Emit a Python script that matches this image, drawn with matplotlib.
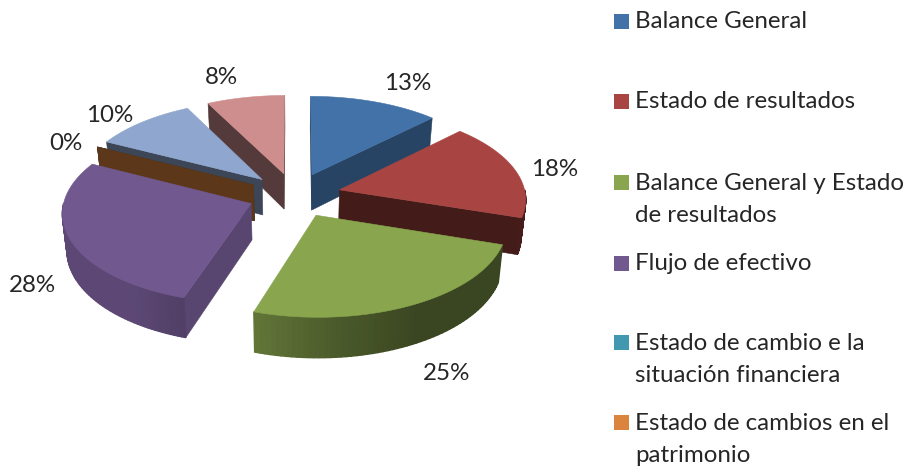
import numpy as np
import matplotlib
matplotlib.use("Agg")
import matplotlib.pyplot as plt
from matplotlib.patches import Polygon, Rectangle

# ---- data ----
categories = ["Balance General", "Estado de resultados",
              "Balance General y Estado\nde resultados", "Flujo de efectivo",
              "Estado de cambio e la\nsituación financiera",
              "Estado de cambios en el\npatrimonio", "Otros 1", "Otros 2"]
counts = [5, 7, 10, 11, 0, 0, 4, 3]
colors = ["#4272A8", "#A84542", "#89A54E", "#71588F", "#4198AF", "#DB843D", "#8FA6CE", "#CE8E8D"]

# ---- styling / placement ----
wall_shade = [0.60, 0.40, 0.42, 0.78, 0.45, 0.42, 0.42, 0.41]
draw_order = [7, 0, 6, 4, 5, 1, 3, 2]
label_xy = [(408, 84), (555, 170), (447, 373), (32, 286), None, (66, 144), (110, 115), (221, 78)]
legend_y = [22, 102, 183, 264, 343, 423]
legend_line = 32
CX, CY, A, B, K, E, D, DX = 294.5, 195, 186, 89, 0.09, 0.25, 36, 0.98

fig = plt.figure(figsize=(9.10, 4.68), dpi=100)
ax = fig.add_axes([0, 0, 1, 1])
ax.set_xlim(0, 910)
ax.set_ylim(468, 0)
ax.axis("off")
FONT = "Lato"
TXT = "#262626"


def project(u, v):
    w = 1 / (1 - K * v)
    return CX + A * u * w, CY + B * v * w


def drop(x, y, v):
    w = 1 / (1 - K * v)
    return CX + (x - CX) * DX, y + D * w


def shade(c, f):
    return tuple(np.array(matplotlib.colors.to_rgb(c)) * f)


def rim_factor(t):
    return np.interp(t, [108, 150, 175, 198, 215, 270], [0.42, 0.42, 0.55, 0.72, 0.82, 0.82])


total = sum(counts)
fracs = np.array(counts) / total
ends = np.cumsum(fracs) * 360
starts = ends - fracs * 360


def face(px, py, c, z, lw=0.4):
    ax.add_patch(Polygon(np.column_stack([px, py]), closed=True, fc=c, ec=c, lw=lw, zorder=z))


for n, i in enumerate(draw_order):
    t0, t1 = starts[i], ends[i]
    mid = np.radians((t0 + t1) / 2)
    u0, v0 = E * np.sin(mid), -E * np.cos(mid)
    ang = np.radians(np.linspace(t0, t1, 80))
    us = u0 + np.sin(ang)
    vs = v0 - np.cos(ang)
    x, y = project(us, vs)
    ax_, ay_ = project(u0, v0)
    z = 2 + n
    # radial walls
    for end_idx in (0, -1):
        ex, ey = x[end_idx], y[end_idx]
        qx, qy = x[len(x) // 2], y[len(y) // 2]
        dx, dy = ex - ax_, ey - ay_
        side_q = dx * (qy - ay_) - dy * (qx - ax_)
        side_d = dx * 1.0
        if counts[i] == 0 or side_q * side_d < 0:
            bx, by = drop(ex, ey, vs[end_idx])
            cx2, cy2 = drop(ax_, ay_, v0)
            face([ax_, ex, bx, cx2], [ay_, ey, by, cy2], shade(colors[i], wall_shade[i]), z)
    # outer rim
    lo, hi = max(t0, 90), min(t1, 270)
    if hi > lo:
        th = np.linspace(lo, hi, 60)
        rad = np.radians(th)
        ru, rv = u0 + np.sin(rad), v0 - np.cos(rad)
        rx, ry = project(ru, rv)
        bx, by = drop(rx, ry, rv)
        for k in range(len(th) - 1):
            col = shade(colors[i], rim_factor(th[k]))
            face([rx[k], rx[k + 1], bx[k + 1], bx[k]], [ry[k], ry[k + 1], by[k + 1], by[k]], col, z, lw=1.0)
    # top face
    if counts[i] > 0:
        face(np.r_[ax_, x], np.r_[ay_, y], colors[i], z + 0.5)

# data labels
for i, pos in enumerate(label_xy):
    if pos is not None:
        pct = int(fracs[i] * 100 + 0.5)
        ax.text(pos[0], pos[1], f"{pct}%", ha="center", va="center", fontsize=17.4,
                family=FONT, color=TXT, zorder=30)

# legend
for i, ly in enumerate(legend_y):
    ax.add_patch(Rectangle((614, ly - 8), 15, 15, fc=colors[i], ec="none", zorder=30))
    for j, line in enumerate(categories[i].split("\n")):
        ax.text(635, ly + j * legend_line, line, ha="left", va="center", fontsize=17.4,
                family=FONT, color=TXT, zorder=30)

fig.savefig("out.png", dpi=100, facecolor="white")
